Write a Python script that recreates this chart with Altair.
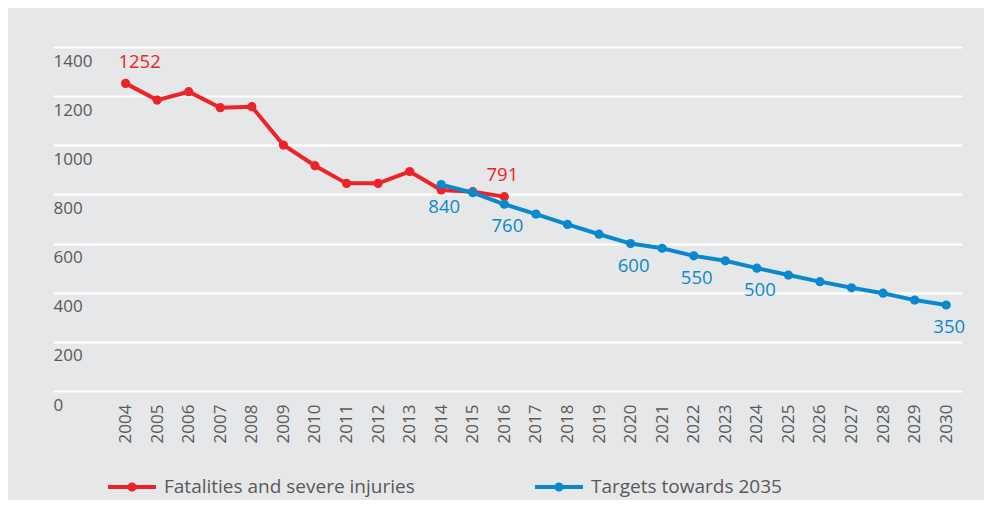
import altair as alt
import pandas as pd

# ---- data ----
series_names = ["Fatalities and severe injuries", "Targets towards 2035"]

red_years = [2004, 2005, 2006, 2007, 2008, 2009, 2010, 2011, 2012, 2013, 2014, 2015, 2016]
red_values = [1252, 1184, 1218, 1153, 1157, 1001, 917, 845, 845, 893, 818, 811, 791]

blue_years = [2014, 2015, 2016, 2017, 2018, 2019, 2020, 2021, 2022, 2023, 2024, 2025,
              2026, 2027, 2028, 2029, 2030]
blue_values = [840, 807, 760, 720, 678, 638, 600, 581, 550, 530, 500, 472, 445, 420, 398, 370, 350]

red_label_years = [2004, 2016]
blue_label_years = [2014, 2016, 2020, 2022, 2024, 2030]

axis_years = [2004, 2005, 2006, 2007, 2008, 2009, 2010, 2011, 2012, 2013, 2014, 2015, 2016,
              2017, 2018, 2019, 2020, 2021, 2022, 2023, 2024, 2025, 2026, 2027, 2028, 2029, 2030]
y_ticks = [0, 200, 400, 600, 800, 1000, 1200, 1400]

# ---- style ----
RED = "#EC2327"
BLUE = "#0A88CE"
BG = "#E6E7E8"
GRAY = "#595959"
FONT = "Open Sans"

rows = []
for yr, v in zip(red_years, red_values):
    rows.append({"series": series_names[0], "year": yr, "value": v,
                 "lab": yr in red_label_years})
for yr, v in zip(blue_years, blue_values):
    rows.append({"series": series_names[1], "year": yr, "value": v,
                 "lab": yr in blue_label_years})
df = pd.DataFrame(rows)

LEGEND_PATH = ("M-1,-0.085H1V0.085H-1Z "
               "M0.19,0A0.19,0.19,0,1,1,-0.19,0A0.19,0.19,0,1,1,0.19,0Z")

x_enc = alt.X("year:Q", title=None,
              scale=alt.Scale(domain=[2001.7, 2030.5], nice=False, zero=False),
              axis=alt.Axis(values=axis_years, format="d", labelAngle=270,
                            labelAlign="right", labelBaseline="middle",
                            labelPadding=13, ticks=False, tickSize=0, domain=False,
                            grid=False, labelFlush=False, labelOverlap=False,
                            labelFontSize=17))
y_enc = alt.Y("value:Q", title=None,
              scale=alt.Scale(domain=[0, 1400], nice=False),
              axis=alt.Axis(values=y_ticks, format="d", ticks=False, tickSize=0,
                            domain=False, grid=True, gridColor="white", gridWidth=2,
                            labelAlign="left", labelPadding=0, labelOffset=14,
                            labelFontSize=17))
color_enc = alt.Color("series:N",
                      scale=alt.Scale(domain=series_names, range=[RED, BLUE]),
                      legend=alt.Legend(title=None, orient="none", legendX=55, legendY=416,
                                        direction="horizontal", symbolType=LEGEND_PATH,
                                        symbolSize=2304, symbolStrokeWidth=0,
                                        symbolOpacity=1, labelFontSize=19,
                                        labelColor=GRAY, labelFont=FONT, labelOffset=8,
                                        columnPadding=120, labelLimit=400))

base = alt.Chart(df).encode(x=x_enc, y=y_enc, color=color_enc)


def series_layers(name):
    sub = base.transform_filter(alt.datum.series == name)
    pts = sub.mark_point(filled=True, size=85, opacity=1, strokeWidth=0)
    line = sub.mark_line(strokeWidth=4)
    return [pts, line]


text_base = alt.Chart(df).encode(x=x_enc, y=y_enc, text=alt.Text("value:Q", format="d"))
red_first = text_base.transform_filter(
    (alt.datum.series == series_names[0]) & alt.datum.lab & (alt.datum.year == red_label_years[0])
).mark_text(color=RED, fontSize=18.5, font=FONT, dx=14, dy=-21)
red_rest = text_base.transform_filter(
    (alt.datum.series == series_names[0]) & alt.datum.lab & (alt.datum.year != red_label_years[0])
).mark_text(color=RED, fontSize=18.5, font=FONT, dx=-2, dy=-22)
blue_text = text_base.transform_filter(
    (alt.datum.series == series_names[1]) & alt.datum.lab
).mark_text(color=BLUE, fontSize=18.5, font=FONT, dx=3, dy=22)

chart = alt.layer(
    *series_layers(series_names[0]),
    *series_layers(series_names[1]),
    red_first, red_rest, blue_text,
).properties(
    width=909, height=344,
    autosize=alt.AutoSizeParams(type="none"),
    padding={"left": 45, "top": 39, "right": 22, "bottom": 109},
).configure(
    background=BG, font=FONT
).configure_view(
    fill=BG, stroke="transparent"
).configure_axis(
    labelFont=FONT, labelColor=GRAY
)

chart.save("out.html", embed_options={"renderer": "svg", "actions": False})
